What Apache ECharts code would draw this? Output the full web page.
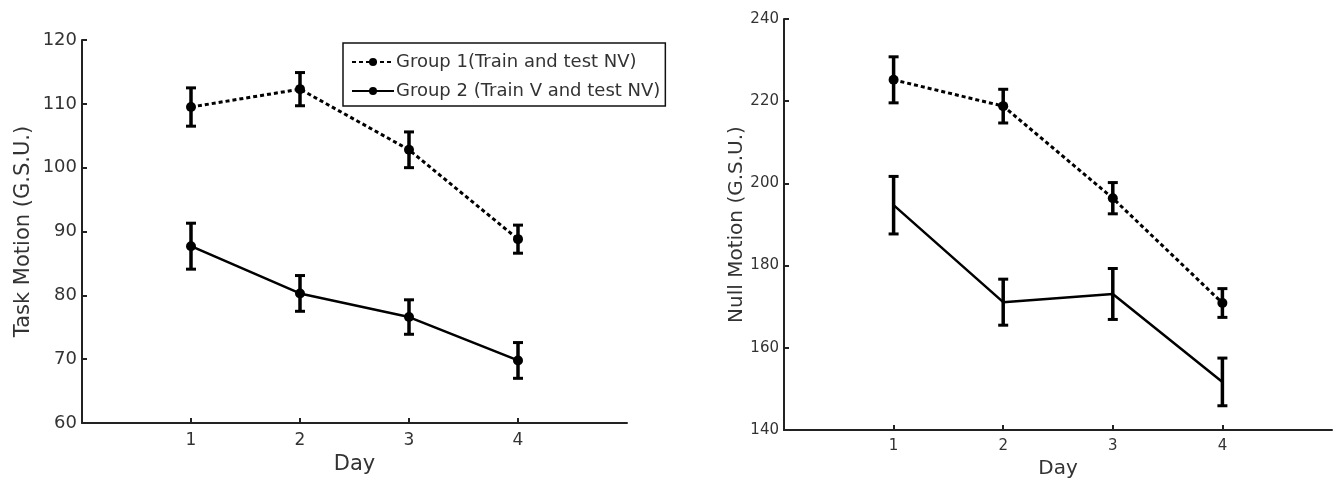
<!DOCTYPE html>
<html>
<head>
<meta charset="utf-8">
<script src="https://cdn.jsdelivr.net/npm/echarts@6/dist/echarts.min.js"></script>
<style>
html,body{margin:0;padding:0;background:#fff;}
#c{width:1341px;height:485px;}
</style>
</head>
<body>
<div id="c"></div>
<script>
const days = [1, 2, 3, 4];
const dayTicks = [1, 2, 3, 4];
const groupNames = ['Group 1(Train and test NV)', 'Group 2 (Train V and test NV)'];
// Task Motion (left panel)
const taskG1 = [109.5, 112.3, 102.8, 88.8];
const taskG1Err = [3.0, 2.6, 2.8, 2.2];
const taskG2 = [87.7, 80.3, 76.6, 69.8];
const taskG2Err = [3.6, 2.8, 2.7, 2.8];
// Null Motion (right panel)
const nullG1 = [225.2, 218.8, 196.4, 170.9];
const nullG1Err = [5.6, 4.1, 3.8, 3.5];
const nullG2 = [194.7, 171.1, 173.1, 151.7];
const nullG2Err = [7.0, 5.6, 6.2, 5.8];

const FONT = 'DejaVu Sans, Liberation Sans, Arial, sans-serif';
const TXT = '#333';

function pts(vals) { return days.map((d, i) => [d, vals[i]]); }
function errs(vals, e) { return days.map((d, i) => [d, vals[i] - e[i], vals[i] + e[i]]); }

function errRender(params, api) {
  const x = api.value(0);
  const lo = api.coord([x, api.value(1)]);
  const hi = api.coord([x, api.value(2)]);
  const cw = 5;
  const st = { stroke: '#000', lineWidth: 3.5 };
  return {
    type: 'group',
    children: [
      { type: 'line', shape: { x1: hi[0], y1: hi[1], x2: lo[0], y2: lo[1] }, style: st },
      { type: 'line', shape: { x1: hi[0] - cw, y1: hi[1], x2: hi[0] + cw, y2: hi[1] }, style: { stroke: '#000', lineWidth: 3 } },
      { type: 'line', shape: { x1: lo[0] - cw, y1: lo[1], x2: lo[0] + cw, y2: lo[1] }, style: { stroke: '#000', lineWidth: 3 } }
    ]
  };
}

function xAxisCfg(gi, labelSize, nameSize, gap) {
  return {
    gridIndex: gi, type: 'value', min: 0, max: 5, interval: 1,
    name: 'Day', nameLocation: 'middle', nameGap: gap,
    nameTextStyle: { fontFamily: FONT, fontSize: nameSize, color: TXT },
    axisLine: { lineStyle: { color: '#222', width: 2 } },
    axisTick: { inside: true, length: 5, customValues: dayTicks, lineStyle: { color: '#222', width: 2 } },
    axisLabel: { customValues: dayTicks, margin: 9, fontFamily: FONT, fontSize: labelSize, color: TXT },
    splitLine: { show: false }
  };
}
function yAxisCfg(gi, min, max, interval, name, gap, labelSize, nameSize) {
  return {
    gridIndex: gi, type: 'value', min: min, max: max, interval: interval,
    name: name, nameLocation: 'middle', nameGap: gap,
    nameTextStyle: { fontFamily: FONT, fontSize: nameSize, color: TXT },
    axisLine: { show: true, lineStyle: { color: '#222', width: 2 } },
    axisTick: { show: true, inside: true, length: 5, lineStyle: { color: '#222', width: 2 } },
    axisLabel: { margin: 5, fontFamily: FONT, fontSize: labelSize, color: TXT },
    splitLine: { show: false }
  };
}

const dotted = { color: '#000', width: 3, type: [4, 3] };
const solid = { color: '#000', width: 2.5, type: 'solid' };

const option = {
  animation: false,
  backgroundColor: '#fff',
  grid: [
    { left: 82, top: 40, width: 545, height: 383 },
    { left: 784, top: 19, width: 548, height: 411 }
  ],
  legend: {
    data: groupNames,
    orient: 'vertical',
    left: 343, top: 43,
    padding: [8, 5, 4, 8],
    itemGap: 7,
    itemWidth: 42, itemHeight: 10,
    borderColor: '#111', borderWidth: 1.5,
    selectedMode: false,
    textStyle: { fontFamily: FONT, fontSize: 18, lineHeight: 22, color: TXT, padding: [0, 0, 0, -3] }
  },
  xAxis: [xAxisCfg(0, 17, 21, 30), xAxisCfg(1, 15, 20, 28)],
  yAxis: [
    yAxisCfg(0, 60, 120, 10, 'Task Motion (G.S.U.)', 48, 18, 21),
    yAxisCfg(1, 140, 240, 20, 'Null Motion (G.S.U.)', 36, 15, 20)
  ],
  series: [
    { name: groupNames[0], type: 'line', xAxisIndex: 0, yAxisIndex: 0, data: pts(taskG1),
      symbol: 'circle', symbolSize: 10, itemStyle: { color: '#000' }, lineStyle: dotted, z: 3 },
    { name: groupNames[1], type: 'line', xAxisIndex: 0, yAxisIndex: 0, data: pts(taskG2),
      symbol: 'circle', symbolSize: 10, itemStyle: { color: '#000' }, lineStyle: solid, z: 3 },
    { type: 'custom', xAxisIndex: 0, yAxisIndex: 0, data: errs(taskG1, taskG1Err), renderItem: errRender, z: 4 },
    { type: 'custom', xAxisIndex: 0, yAxisIndex: 0, data: errs(taskG2, taskG2Err), renderItem: errRender, z: 4 },
    { name: groupNames[0], type: 'line', xAxisIndex: 1, yAxisIndex: 1, data: pts(nullG1),
      symbol: 'circle', symbolSize: 10, itemStyle: { color: '#000' }, lineStyle: dotted, z: 3 },
    { name: groupNames[1], type: 'line', xAxisIndex: 1, yAxisIndex: 1, data: pts(nullG2),
      symbol: 'none', itemStyle: { color: '#000' }, lineStyle: solid, z: 3 },
    { type: 'custom', xAxisIndex: 1, yAxisIndex: 1, data: errs(nullG1, nullG1Err), renderItem: errRender, z: 4 },
    { type: 'custom', xAxisIndex: 1, yAxisIndex: 1, data: errs(nullG2, nullG2Err), renderItem: errRender, z: 4 }
  ]
};

const chart = echarts.init(document.getElementById('c'), null, { renderer: 'canvas' });
chart.setOption(option);
</script>
</body>
</html>
